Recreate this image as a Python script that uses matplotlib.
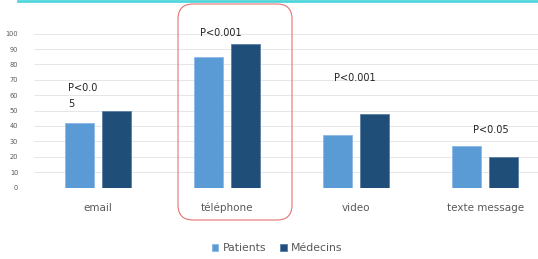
import numpy as np
import matplotlib.pyplot as plt
from matplotlib.patches import FancyBboxPatch
from matplotlib.lines import Line2D

categories = ['email', 'téléphone', 'video', 'texte message']
patients = [42, 85, 34, 27]
medecins = [50, 93.5, 48, 20]
pvalues = ['P<0.0\n5', 'P<0.001', 'P<0.001', 'P<0.05']
pval_y = [52.5, 98.5, 69, 35.5]
yticks = list(range(0, 101, 10))

c_pat = '#5B9BD5'
c_med = '#1F4E79'
grey = '#595959'

fig = plt.figure(figsize=(5.38, 2.59), dpi=100)
ax = fig.add_axes([33.5 / 538, (259 - 187.5) / 259, 504.5 / 538, 153.8 / 259])

x = np.arange(len(categories))
w = 0.225
ax.bar(x - 0.142, patients, w, color=c_pat, edgecolor='#8DB8E6', linewidth=0.6, zorder=3, label='Patients')
ax.bar(x + 0.142, medecins, w, color=c_med, edgecolor='#5A7FA6', linewidth=0.6, zorder=3, label='Médecins')

ax.set_xlim(-0.5, 3.41)
ax.set_ylim(0, 100)
ax.set_yticks(yticks)
ax.set_yticklabels([str(t) for t in yticks], fontsize=4.8, color=grey)
ax.set_xticks(x)
ax.set_xticklabels(categories, fontsize=7.5, color=grey)
ax.tick_params(axis='both', length=0)
ax.tick_params(axis='x', pad=11)
ax.tick_params(axis='y', pad=11)
ax.grid(axis='y', color='#E6E6E6', linewidth=0.7, zorder=0)
for s in ax.spines.values():
    s.set_visible(False)

# p-value labels
offsets = [-0.233, -0.21, -0.17, -0.093]
for i, (txt, yy) in enumerate(zip(pvalues, pval_y)):
    ax.text(i + offsets[i], yy, txt, fontsize=7, color='#222222', ha='left', va='baseline',
            linespacing=1.7, clip_on=False)

# red rounded box around téléphone
box = FancyBboxPatch((178 / 538, (259 - 220) / 259), 114 / 538, 216 / 259,
                     boxstyle='round,pad=0,rounding_size=0.028', mutation_aspect=2.08,
                     transform=fig.transFigure, fill=False, edgecolor='#E57373', linewidth=0.8)
fig.patches.append(box)

# cyan line at top
fig.add_artist(Line2D([18 / 538, 1], [0.997, 0.997], transform=fig.transFigure,
                      color='#4FD6DB', linewidth=2))

leg = fig.legend(loc='center', bbox_to_anchor=(277 / 538, 1 - 248 / 259), ncol=2, frameon=False,
                 fontsize=7.8, handlelength=0.6, handleheight=0.6, handletextpad=0.4, columnspacing=1.3)
for t in leg.get_texts():
    t.set_color(grey)

fig.savefig('out.png', dpi=100)
